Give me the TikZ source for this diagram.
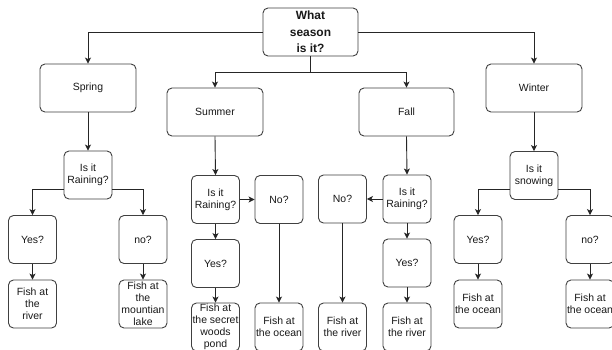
\documentclass[tikz,border=0pt]{standalone}
\usepackage{fontspec}
\setmainfont{Liberation Sans}
\usetikzlibrary{arrows.meta}
\tikzset{
  box/.style={draw=black!75, rounded corners=5bp, line width=0.9bp,
    minimum width=48bp, minimum height=48bp, align=center, inner sep=1bp,
    text=black!90, font=\fontsize{10.5}{12}\selectfont},
  bigbox/.style={box, minimum width=96bp},
  rootbox/.style={box, minimum width=95bp, font=\bfseries\fontsize{12}{16.5}\selectfont},
  arr/.style={draw=black!85, line width=0.9bp, -{Stealth[length=6bp,width=6bp,inset=1.5bp]}}
}
\begin{document}
\begin{tikzpicture}[x=1bp,y=-1bp]
\clip (0,0) rectangle (612,349);
\fill[white] (0,0) rectangle (612,349);
% level 0
\node[rootbox] (root) at (310.5,32) {What\\season\\is it?};
% seasons
\node[bigbox] (spring) at (88,88) {Spring};
\node[bigbox] (summer) at (215,112) {Summer};
\node[bigbox, minimum width=95bp] (fall) at (406.5,112) {Fall};
\node[bigbox] (winter) at (534,88) {Winter};
% spring branch
\node[box] (spR) at (88,175) {Is it\\Raining?};
\node[box] (spY) at (32.5,239.5) {Yes?};
\node[box] (spYF) at (32.5,304) {Fish at\\the\\river};
\node[box] (spN) at (143,239.5) {no?};
\node[box] (spNF) at (143,304) {Fish at\\the\\mountian\\lake};
% summer branch
\node[box] (suR) at (215.5,199.5) {Is it\\Raining?};
\node[box] (suN) at (279,199.5) {No?};
\node[box] (suY) at (215.5,263.5) {Yes?};
\node[box] (suYF) at (215.5,327) {Fish at\\the secret\\woods\\pond};
\node[box] (suNF) at (279,327) {Fish at\\the ocean};
% fall branch
\node[box] (faR) at (407,199) {Is it\\Raining?};
\node[box] (faN) at (342.5,199) {No?};
\node[box] (faY) at (407,263) {Yes?};
\node[box] (faYF) at (407,327) {Fish at\\the river};
\node[box] (faNF) at (342.5,327) {Fish at\\the river};
% winter branch
\node[box] (wiR) at (534,175.5) {Is it\\snowing};
\node[box] (wiY) at (478,239.5) {Yes?};
\node[box] (wiYF) at (478,304) {Fish at\\the ocean};
\node[box] (wiN) at (590,239.5) {no?};
\node[box] (wiNF) at (590,304) {Fish at\\the ocean};
% connectors from root
\draw[arr] (root.west) -| (spring.north);
\draw[arr] (root.east) -| (winter.north);
\draw[arr] (root.south) -- ++(0,16) -| (summer.north);
\draw[arr] (root.south) -- ++(0,16) -| (fall.north);
% spring
\draw[arr] (spring.south) -- (spR.north);
\draw[arr] ([yshift=10bp]spR.south west) -| (spY.north);
\draw[arr] ([yshift=10bp]spR.south east) -| (spN.north);
\draw[arr] (spY.south) -- (spYF.north);
\draw[arr] (spN.south) -- (spNF.north);
% summer
\draw[arr] (summer.south) -- (suR.north);
\draw[arr] (suR.east) -- (suN.west);
\draw[arr] (suR.south) -- (suY.north);
\draw[arr] (suY.south) -- (suYF.north);
\draw[arr] (suN.south) -- (suNF.north);
% fall
\draw[arr] (fall.south) -- (faR.north);
\draw[arr] (faR.west) -- (faN.east);
\draw[arr] (faR.south) -- (faY.north);
\draw[arr] (faY.south) -- (faYF.north);
\draw[arr] (faN.south) -- (faNF.north);
% winter
\draw[arr] (winter.south) -- (wiR.north);
\draw[arr] ([yshift=11bp]wiR.south west) -| (wiY.north);
\draw[arr] ([yshift=11bp]wiR.south east) -| (wiN.north);
\draw[arr] (wiY.south) -- (wiYF.north);
\draw[arr] (wiN.south) -- (wiNF.north);
\end{tikzpicture}
\end{document}
